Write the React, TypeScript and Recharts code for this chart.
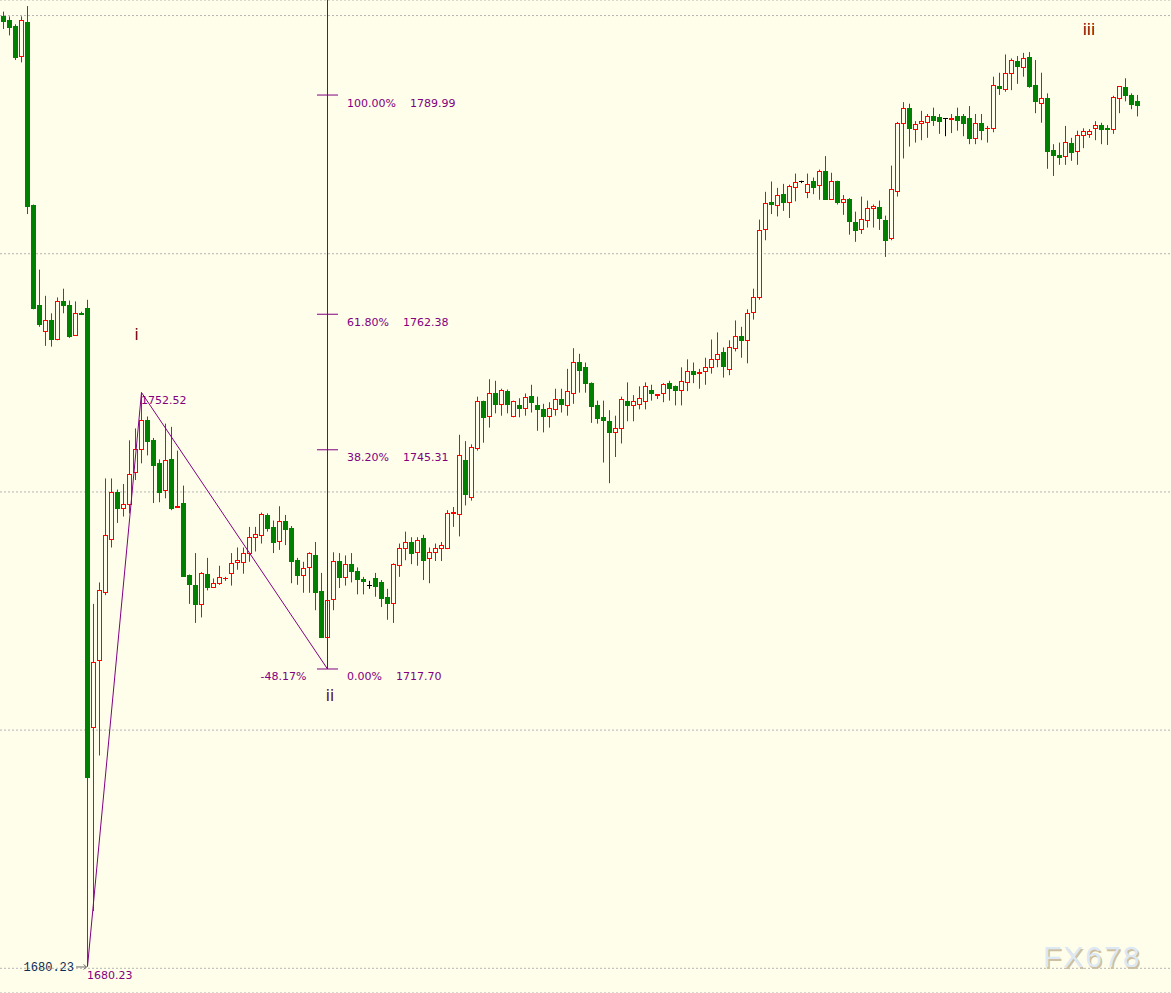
import {
  Bar,
  CartesianGrid,
  ComposedChart,
  ReferenceDot,
  ReferenceLine,
  XAxis,
  YAxis,
} from 'recharts';

// candle prices, one entry per bar (oldest first)
const OPEN = [
  1799.9, 1799.4, 1798.7, 1794.9, 1799.2, 1776.2, 1763.6, 1760.3, 1761.7, 1759.2,
  1764.1, 1763.5, 1759.8, 1762.6, 1763.2, 1710.4, 1718.8, 1727.4, 1734.1, 1740.0,
  1738.0, 1738.5, 1742.5, 1745.4, 1749.1, 1746.5, 1743.6, 1740.2, 1744.1, 1738.1,
  1738.6, 1729.5, 1728.3, 1725.9, 1729.7, 1728.0, 1728.5, 1729.1, 1729.8, 1731.2,
  1731.2, 1732.3, 1734.3, 1734.6, 1737.1, 1735.6, 1733.8, 1736.4, 1735.4, 1731.4,
  1729.5, 1730.5, 1732.0, 1727.5, 1721.7, 1726.5, 1731.3, 1729.3, 1730.9, 1730.0,
  1729.0, 1728.3, 1729.2, 1728.6, 1726.8, 1726.0, 1730.8, 1733.0, 1733.7, 1732.4,
  1734.2, 1731.7, 1732.4, 1733.0, 1733.0, 1737.4, 1737.2, 1744.0, 1739.3, 1745.5,
  1751.4, 1749.6, 1752.4, 1751.1, 1752.7, 1749.6, 1751.0, 1750.6, 1752.1, 1751.0,
  1750.5, 1749.6, 1750.5, 1751.7, 1751.0, 1752.5, 1756.4, 1755.7, 1753.7, 1750.9,
  1749.4, 1748.9, 1747.5, 1748.0, 1751.4, 1751.0, 1751.1, 1751.5, 1752.9, 1752.2,
  1752.5, 1753.7, 1753.3, 1752.9, 1753.8, 1755.2, 1755.0, 1755.2, 1755.7, 1756.7,
  1757.6, 1755.5, 1758.1, 1759.6, 1759.1, 1762.7, 1764.6, 1773.1, 1776.5, 1776.2,
  1777.5, 1776.5, 1778.4, 1779.1, 1777.8, 1779.1, 1778.7, 1780.4, 1776.9, 1779.1,
  1776.5, 1776.9, 1774.0, 1773.1, 1774.3, 1775.7, 1775.9, 1774.3, 1772.0, 1777.9,
  1786.5, 1788.4, 1785.7, 1786.5, 1786.6, 1787.3, 1787.2, 1787.1, 1787.0, 1787.3,
  1787.3, 1787.1, 1784.6, 1786.5, 1785.8, 1785.9, 1791.1, 1790.7, 1792.8, 1794.3,
  1793.5, 1794.8, 1791.2, 1789.0, 1789.6, 1783.1, 1782.5, 1782.3, 1784.0, 1783.0,
  1785.0, 1785.1, 1785.8, 1786.2, 1785.8, 1785.7, 1789.6, 1791.0, 1790.0, 1789.2,
];
const HIGH = [
  1800.5, 1799.9, 1798.9, 1799.9, 1801.2, 1776.2, 1768.0, 1764.7, 1762.5, 1764.5,
  1765.6, 1764.1, 1764.0, 1762.7, 1764.2, 1725.9, 1728.6, 1741.7, 1741.7, 1740.3,
  1741.0, 1746.5, 1748.0, 1752.52, 1749.5, 1746.8, 1744.1, 1748.6, 1748.2, 1745.2,
  1740.8, 1729.6, 1732.3, 1729.9, 1731.7, 1729.1, 1730.7, 1729.3, 1732.3, 1733.0,
  1733.0, 1735.6, 1735.6, 1737.4, 1737.3, 1736.4, 1738.2, 1737.1, 1735.7, 1731.7,
  1731.2, 1732.4, 1733.7, 1729.8, 1729.8, 1732.4, 1732.3, 1732.0, 1732.3, 1730.5,
  1729.3, 1728.8, 1729.8, 1728.9, 1727.8, 1731.0, 1733.5, 1735.0, 1734.3, 1734.3,
  1734.6, 1733.0, 1733.5, 1733.7, 1737.7, 1738.1, 1747.2, 1746.4, 1746.0, 1752.0,
  1751.5, 1754.2, 1754.0, 1753.0, 1752.9, 1751.5, 1751.8, 1752.4, 1753.5, 1752.0,
  1751.1, 1751.3, 1753.0, 1753.0, 1755.5, 1758.1, 1757.4, 1756.3, 1753.8, 1751.5,
  1751.5, 1750.3, 1749.6, 1752.0, 1753.8, 1752.2, 1753.3, 1753.8, 1753.5, 1752.3,
  1753.7, 1754.0, 1753.4, 1755.7, 1756.7, 1756.3, 1755.5, 1756.9, 1759.2, 1760.1,
  1758.2, 1759.1, 1761.6, 1760.8, 1763.0, 1765.6, 1774.3, 1777.8, 1779.1, 1778.3,
  1778.8, 1778.7, 1780.1, 1779.2, 1780.1, 1779.6, 1780.6, 1782.3, 1780.2, 1779.2,
  1777.4, 1777.0, 1775.3, 1777.2, 1776.7, 1776.2, 1776.7, 1774.8, 1781.1, 1786.6,
  1789.1, 1788.9, 1786.7, 1788.0, 1787.6, 1788.4, 1787.6, 1787.1, 1787.6, 1788.4,
  1787.6, 1788.6, 1787.6, 1787.6, 1786.1, 1792.3, 1792.8, 1795.1, 1794.6, 1794.9,
  1795.3, 1795.4, 1794.4, 1792.8, 1790.2, 1783.8, 1784.0, 1786.1, 1784.6, 1785.5,
  1785.8, 1785.7, 1786.7, 1786.5, 1786.2, 1789.9, 1791.1, 1792.1, 1790.2, 1790.0,
];
const LOW = [
  1798.3, 1797.5, 1794.4, 1794.1, 1775.0, 1763.0, 1760.8, 1758.4, 1758.3, 1759.1,
  1762.5, 1759.4, 1759.7, 1762.3, 1680.23, 1687.2, 1706.8, 1727.0, 1733.0, 1736.1,
  1736.9, 1737.3, 1741.5, 1743.6, 1744.6, 1738.6, 1738.7, 1739.2, 1737.7, 1738.0,
  1729.3, 1725.9, 1723.5, 1724.2, 1727.6, 1727.9, 1728.3, 1728.8, 1728.2, 1730.2,
  1729.7, 1731.2, 1732.5, 1733.5, 1735.0, 1732.3, 1732.7, 1733.3, 1728.5, 1728.3,
  1727.3, 1727.3, 1725.1, 1721.6, 1721.4, 1725.1, 1727.9, 1728.2, 1728.6, 1727.1,
  1727.1, 1727.8, 1726.8, 1725.5, 1723.9, 1723.5, 1729.3, 1731.4, 1730.9, 1730.7,
  1728.9, 1728.5, 1731.3, 1731.3, 1732.8, 1735.6, 1734.4, 1738.3, 1738.9, 1745.2,
  1746.2, 1748.1, 1749.9, 1749.6, 1749.9, 1749.4, 1749.4, 1749.6, 1750.0, 1747.7,
  1747.5, 1748.1, 1749.6, 1750.0, 1749.6, 1751.1, 1752.5, 1752.5, 1748.7, 1748.6,
  1743.7, 1741.1, 1744.4, 1746.1, 1748.9, 1748.9, 1750.4, 1750.4, 1751.5, 1751.7,
  1751.3, 1751.5, 1750.9, 1750.9, 1752.7, 1753.7, 1753.0, 1753.5, 1754.9, 1755.7,
  1754.4, 1754.7, 1757.7, 1756.9, 1756.2, 1761.7, 1764.2, 1771.7, 1775.0, 1774.7,
  1775.4, 1774.5, 1776.6, 1778.9, 1777.0, 1777.5, 1776.8, 1776.8, 1776.8, 1776.2,
  1774.9, 1772.4, 1771.5, 1772.5, 1773.3, 1773.3, 1773.0, 1769.6, 1771.7, 1777.2,
  1782.0, 1783.5, 1784.0, 1784.3, 1784.6, 1786.1, 1785.1, 1784.8, 1785.2, 1785.5,
  1784.8, 1783.8, 1783.8, 1784.3, 1784.0, 1785.3, 1790.0, 1790.4, 1790.6, 1791.4,
  1792.3, 1790.9, 1787.7, 1786.5, 1780.7, 1779.8, 1781.2, 1781.2, 1781.7, 1781.2,
  1783.3, 1784.6, 1784.3, 1783.8, 1783.7, 1785.1, 1787.7, 1789.2, 1788.2, 1787.3,
];
const CLOSE = [
  1799.3, 1798.5, 1794.8, 1799.4, 1776.0, 1763.2, 1761.2, 1761.7, 1759.3, 1764.1,
  1763.5, 1759.6, 1762.5, 1762.4, 1704.1, 1718.6, 1727.6, 1734.6, 1740.0, 1738.0,
  1738.5, 1742.3, 1745.4, 1749.0, 1746.4, 1743.4, 1740.0, 1744.0, 1738.0, 1738.2,
  1729.4, 1728.4, 1725.9, 1729.8, 1728.0, 1728.5, 1729.3, 1729.2, 1731.0, 1731.4,
  1732.3, 1734.3, 1734.7, 1737.2, 1735.4, 1733.7, 1736.4, 1735.3, 1731.3, 1729.5,
  1730.4, 1732.3, 1727.4, 1721.7, 1726.4, 1731.3, 1729.3, 1730.9, 1730.0, 1729.0,
  1728.8, 1728.3, 1728.2, 1726.6, 1726.0, 1730.9, 1733.0, 1733.7, 1732.3, 1734.0,
  1731.4, 1732.4, 1733.0, 1733.3, 1737.4, 1737.5, 1744.7, 1739.8, 1745.6, 1751.5,
  1749.5, 1752.5, 1751.1, 1752.8, 1751.1, 1751.4, 1750.6, 1752.0, 1751.3, 1750.4,
  1749.6, 1750.6, 1751.7, 1751.1, 1752.7, 1756.4, 1755.4, 1753.7, 1750.8, 1749.3,
  1749.1, 1747.5, 1748.0, 1751.7, 1751.0, 1751.5, 1751.8, 1753.4, 1752.4, 1752.3,
  1753.6, 1753.1, 1752.9, 1754.0, 1755.2, 1754.9, 1755.1, 1755.7, 1756.7, 1757.4,
  1755.8, 1758.3, 1759.7, 1759.1, 1762.6, 1764.5, 1773.0, 1776.4, 1776.3, 1777.4,
  1776.5, 1778.5, 1779.0, 1779.1, 1778.8, 1778.4, 1780.4, 1776.9, 1779.1, 1776.5,
  1776.9, 1774.1, 1773.0, 1774.4, 1775.8, 1776.0, 1774.5, 1771.7, 1778.2, 1786.5,
  1788.4, 1785.8, 1786.3, 1786.7, 1787.3, 1786.8, 1786.7, 1787.1, 1787.1, 1786.8,
  1786.5, 1784.6, 1786.5, 1785.6, 1785.9, 1791.2, 1790.9, 1792.8, 1794.4, 1793.6,
  1794.6, 1791.1, 1789.2, 1789.6, 1783.0, 1782.5, 1782.2, 1784.1, 1782.8, 1785.0,
  1785.5, 1785.5, 1786.2, 1785.7, 1785.7, 1789.7, 1791.1, 1790.0, 1788.9, 1788.7,
];

const GRID_LEVELS = [1680, 1710, 1740, 1770, 1800];

// swing points the fibonacci tool was drawn on: bar index + price
const SWING_LOW = { i: 14, p: 1680.23 };
const SWING_HIGH = { i: 23, p: 1752.52 };
const RETRACE = { i: 54, p: 1717.7 };
const RETRACE_PCT = -48.17;

const FIB_PCT = [100, 61.8, 38.2, 0];
const FIB_PRICE = [1789.99, 1762.38, 1745.31, 1717.7];

const WAVES = [
  { label: 'i', i: 22.2, p: 1759.1 },
  { label: 'ii', i: 54.4, p: 1713.7 },
  { label: 'iii', i: 180.9, p: 1797.5 },
];

const W = 1171;
const H = 993;
const Y_MIN = 1676.89;
const Y_MAX = 1801.96;
const X_MIN = -3.5 / 6;
const X_MAX = X_MIN + W / 6;

const BG = '#fffeeb';
const PURPLE = '#800080';
const UP = '#ff0000';
const DOWN = '#008000';

const data = OPEN.map((open, i) => ({
  i,
  open,
  high: HIGH[i],
  low: LOW[i],
  close: CLOSE[i],
}));

function Candle(props: any) {
  const { x, y, width, height, payload } = props;
  if (x == null || y == null) return null;
  const { open, close, high, low } = payload;
  const span = high - low || 1;
  const top = Math.min(y, y + height);
  const h = Math.abs(height);
  const toY = (v: number) => top + ((high - v) / span) * h;
  const cx = Math.floor(x + width / 2) + 0.5;
  const flat = open === close;
  const up = close > open;
  const color = flat ? '#000000' : up ? UP : DOWN;
  const bTop = Math.round(toY(Math.max(open, close)));
  const bBot = Math.round(toY(Math.min(open, close)));
  const wick = <line x1={cx} x2={cx} y1={toY(high)} y2={toY(low)} stroke={color} strokeWidth={1} />;
  if (flat || bBot - bTop < 1) {
    return (
      <g>
        {wick}
        <line x1={cx - 2.5} x2={cx + 2.5} y1={bTop + 0.5} y2={bTop + 0.5} stroke={color} strokeWidth={1} />
      </g>
    );
  }
  if (up) {
    return (
      <g>
        {wick}
        <rect x={cx - 2} y={bTop + 0.5} width={4} height={bBot - bTop} fill={BG} stroke={color} strokeWidth={1} />
      </g>
    );
  }
  return (
    <g>
      {wick}
      <rect x={cx - 2.5} y={bTop} width={5} height={Math.max(1, bBot - bTop + 1)} fill={color} />
    </g>
  );
}

const textDot = (
  text: string,
  dx: number,
  dy: number,
  style: { fill: string; size: number; family: string; anchor?: 'start' | 'end' | 'middle' },
) =>
  function TextShape(p: any) {
    return (
      <text
        x={p.cx + dx}
        y={p.cy + dy}
        fill={style.fill}
        fontSize={style.size}
        fontFamily={style.family}
        textAnchor={style.anchor ?? 'start'}
      >
        {text}
      </text>
    );
  };

const fibFont = { fill: PURPLE, size: 11, family: '"DejaVu Sans", Verdana, sans-serif' };
const waveFont = { fill: '#5c0000', size: 15, family: '"DejaVu Sans", Verdana, sans-serif', anchor: 'middle' as const };

export default function App() {
  return (
    <div style={{ position: 'absolute', left: 0, top: 0, width: W, height: H, background: BG, overflow: 'hidden' }}>
      <ComposedChart width={W} height={H} data={data} margin={{ top: 0, right: 0, bottom: 0, left: 0 }}>
        <CartesianGrid vertical={false} stroke="#b4b4b4" strokeDasharray="2 2" />
        <XAxis type="number" dataKey="i" domain={[X_MIN, X_MAX]} allowDataOverflow hide />
        <YAxis type="number" domain={[Y_MIN, Y_MAX]} ticks={GRID_LEVELS} allowDataOverflow hide />
        <Bar
          dataKey={(d: any) => [d.low, d.high]}
          barSize={5}
          shape={<Candle />}
          isAnimationActive={false}
        />

        {/* swing lines */}
        <ReferenceLine
          segment={[{ x: SWING_LOW.i, y: SWING_LOW.p }, { x: SWING_HIGH.i, y: SWING_HIGH.p }]}
          stroke={PURPLE}
          strokeWidth={1}
          ifOverflow="visible"
        />
        <ReferenceLine
          segment={[{ x: SWING_HIGH.i, y: SWING_HIGH.p }, { x: RETRACE.i, y: RETRACE.p }]}
          stroke={PURPLE}
          strokeWidth={1}
          ifOverflow="visible"
        />
        {/* fib expansion stem + level ticks */}
        <ReferenceLine
          segment={[{ x: RETRACE.i, y: RETRACE.p }, { x: RETRACE.i, y: Y_MAX }]}
          stroke={PURPLE}
          strokeWidth={1}
          ifOverflow="visible"
        />
        {FIB_PRICE.map((p) => (
          <ReferenceLine
            key={`t${p}`}
            segment={[{ x: RETRACE.i - 1.75, y: p }, { x: RETRACE.i + 1.75, y: p }]}
            stroke={PURPLE}
            strokeWidth={1}
            ifOverflow="visible"
          />
        ))}
        {FIB_PRICE.map((p, k) => {
          const pct = `${FIB_PCT[k].toFixed(2)}%`;
          return [
            <ReferenceDot key={`p${p}`} x={RETRACE.i} y={p} r={0} ifOverflow="visible" shape={textDot(pct, 19.5, 11.5, fibFont)} />,
            <ReferenceDot
              key={`v${p}`}
              x={RETRACE.i}
              y={p}
              r={0}
              ifOverflow="visible"
              shape={textDot(p.toFixed(2), 19.5 + pct.length * 7 + 14, 11.5, fibFont)}
            />,
          ];
        })}
        <ReferenceDot
          x={RETRACE.i}
          y={RETRACE.p}
          r={0}
          ifOverflow="visible"
          shape={textDot(`${RETRACE_PCT.toFixed(2)}%`, -21, 11.5, { ...fibFont, anchor: 'end' })}
        />
        <ReferenceDot
          x={SWING_HIGH.i}
          y={SWING_HIGH.p}
          r={0}
          ifOverflow="visible"
          shape={textDot(SWING_HIGH.p.toFixed(2), -0.5, 11, fibFont)}
        />
        <ReferenceDot
          x={SWING_LOW.i}
          y={SWING_LOW.p}
          r={0}
          ifOverflow="visible"
          shape={textDot(SWING_LOW.p.toFixed(2), -0.5, 12.5, fibFont)}
        />
        {/* price marker on the low */}
        <ReferenceDot
          x={SWING_LOW.i}
          y={SWING_LOW.p}
          r={0}
          ifOverflow="visible"
          shape={(p: any) => (
            <g>
              <text
                x={p.cx - 13.5}
                y={p.cy + 4.5}
                fill="#0c2d55"
                fontSize={12}
                fontFamily='"Liberation Mono", "DejaVu Sans Mono", monospace'
                textAnchor="end"
              >
                {SWING_LOW.p.toFixed(2)}
              </text>
              <line x1={p.cx - 11.5} x2={p.cx - 1} y1={p.cy + 0.5} y2={p.cy + 0.5} stroke="#6e6e6e" strokeWidth={1} />
              <path
                d={`M${p.cx - 4},${p.cy - 2} L${p.cx - 1},${p.cy + 0.5} L${p.cx - 4},${p.cy + 3}`}
                fill="none"
                stroke="#6e6e6e"
                strokeWidth={1}
              />
            </g>
          )}
        />
        {WAVES.map((w) => (
          <ReferenceDot key={w.label} x={w.i} y={w.p} r={0} ifOverflow="visible" shape={textDot(w.label, 0, 0, waveFont)} />
        ))}
      </ComposedChart>
      <div
        style={{
          position: 'absolute',
          left: 1043,
          top: 942,
          fontFamily: '"Liberation Sans", Arial, sans-serif',
          fontSize: 30,
          lineHeight: '30px',
          letterSpacing: 2,
          color: '#dce8f4',
          textShadow: '1.5px 1.5px 0 #cdbf9f',
          pointerEvents: 'none',
        }}
      >
        FX678
      </div>
    </div>
  );
}
